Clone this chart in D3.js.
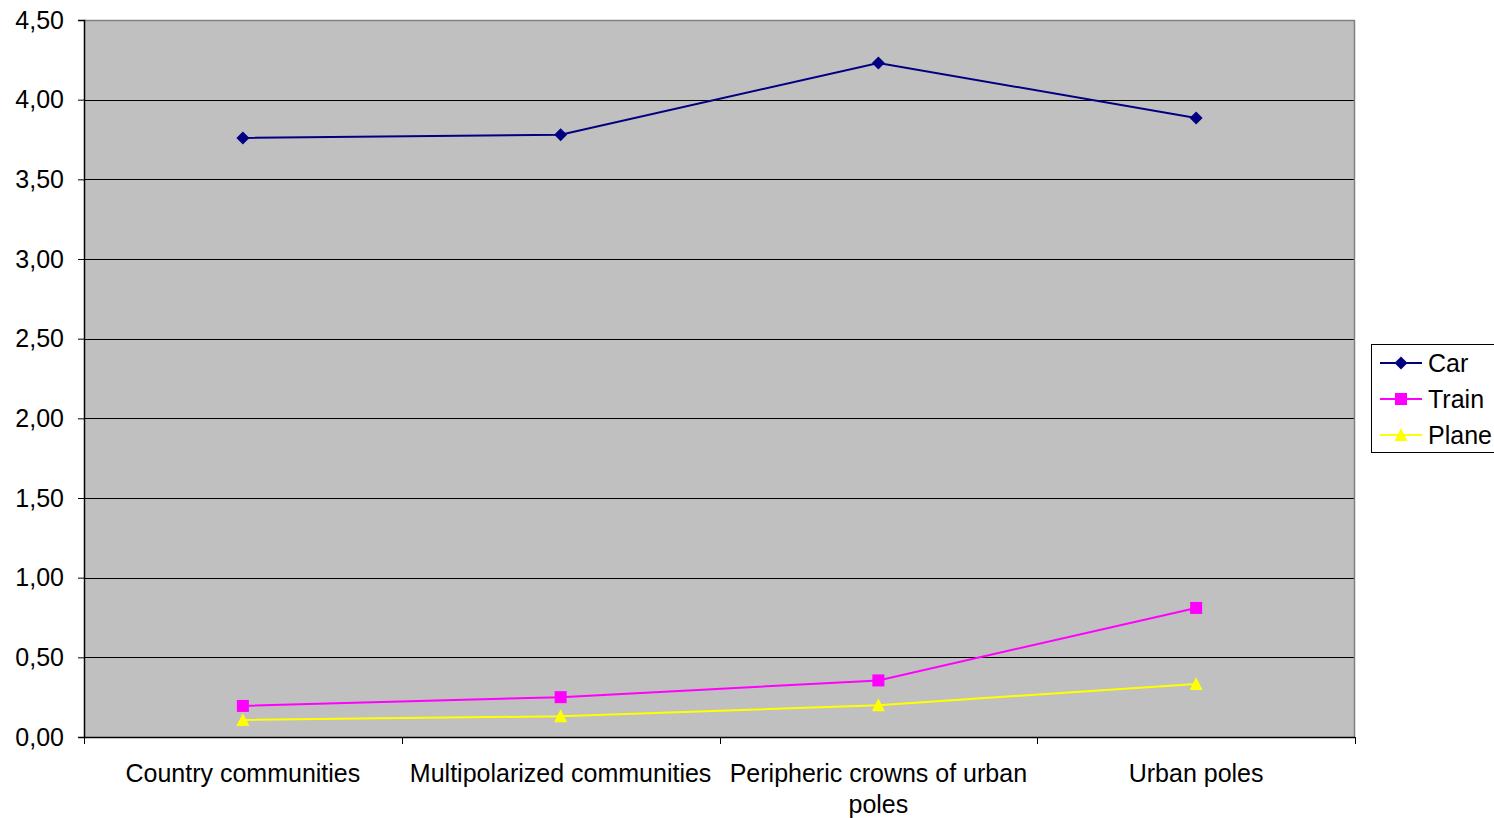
<!DOCTYPE html>
<html>
<head>
<meta charset="utf-8">
<script src="https://cdn.jsdelivr.net/npm/d3@7"></script>
<style>
  html, body { margin: 0; padding: 0; background: #fff; }
  svg { display: block; font-family: "Liberation Sans", Arial, sans-serif; }
</style>
</head>
<body>
<svg id="chart" width="1494" height="818"></svg>
<script>
const categories = [
  ["Country communities"],
  ["Multipolarized communities"],
  ["Peripheric crowns of urban", "poles"],
  ["Urban poles"]
];
const seriesNames = ["Car", "Train", "Plane"];
const carValues = [3.76, 3.78, 4.23, 3.885];
const trainValues = [0.195, 0.25, 0.355, 0.81];
const planeValues = [0.107, 0.13, 0.20, 0.333];
const yTicks = [0, 0.5, 1, 1.5, 2, 2.5, 3, 3.5, 4, 4.5];

const series = [
  { name: seriesNames[0], values: carValues, color: "#000080", marker: "diamond" },
  { name: seriesNames[1], values: trainValues, color: "#ff00ff", marker: "square" },
  { name: seriesNames[2], values: planeValues, color: "#ffff00", marker: "triangle" }
];

const svg = d3.select("#chart");
const plot = { left: 84, right: 1355, top: 20, bottom: 737 };
const fontSize = 25;

const x = d3.scaleBand()
  .domain(d3.range(categories.length))
  .range([plot.left, plot.right]);
const y = d3.scaleLinear().domain([0, 4.5]).range([plot.bottom, plot.top]);

// plot background
svg.append("rect")
  .attr("x", plot.left).attr("y", plot.top)
  .attr("width", plot.right - plot.left).attr("height", plot.bottom - plot.top)
  .attr("fill", "#c0c0c0");

// horizontal gridlines
svg.append("g").selectAll("line")
  .data(yTicks.filter(t => t > 0))
  .join("line")
  .attr("x1", plot.left).attr("x2", plot.right)
  .attr("y1", d => Math.round(y(d)) + 0.5).attr("y2", d => Math.round(y(d)) + 0.5)
  .attr("stroke", "#000").attr("stroke-width", 1);

// plot border (top/right)
svg.append("path")
  .attr("d", `M${plot.left},${plot.top + 0.5}H${plot.right - 0.5}V${plot.bottom}`)
  .attr("fill", "none").attr("stroke", "#808080").attr("stroke-width", 1.5);

// y axis
const yAxis = svg.append("g")
  .attr("transform", `translate(${plot.left},0)`)
  .call(d3.axisLeft(y).tickValues(yTicks).tickSize(6).tickPadding(14)
    .tickFormat(d => d3.format(".2f")(d).replace(".", ",")));
yAxis.select(".domain").attr("stroke", "#000").attr("stroke-width", 1.5);
yAxis.selectAll(".tick line").attr("stroke", "#000");
yAxis.selectAll(".tick text").attr("font-size", fontSize).attr("fill", "#000")
  .attr("font-family", "'Liberation Sans', Arial, sans-serif");

// x axis
const xAxis = svg.append("g")
  .attr("transform", `translate(0,${plot.bottom})`);
xAxis.append("line")
  .attr("x1", plot.left).attr("x2", plot.right)
  .attr("y1", 0.5).attr("y2", 0.5)
  .attr("stroke", "#000").attr("stroke-width", 1.5);
const boundaries = d3.range(categories.length + 1).map(i => plot.left + i * x.bandwidth());
xAxis.selectAll(".xtick").data(boundaries).join("line")
  .attr("class", "xtick")
  .attr("x1", d => Math.round(d) + 0.5).attr("x2", d => Math.round(d) + 0.5)
  .attr("y1", 0).attr("y2", 7)
  .attr("stroke", "#000");
xAxis.selectAll(".xlabel").data(categories).join("text")
  .attr("class", "xlabel")
  .attr("x", (d, i) => x(i) + x.bandwidth() / 2)
  .attr("y", 45)
  .attr("text-anchor", "middle")
  .attr("font-size", fontSize)
  .attr("fill", "#000")
  .each(function(d) {
    d3.select(this).selectAll("tspan").data(d).join("tspan")
      .attr("x", d3.select(this).attr("x"))
      .attr("dy", (t, j) => j === 0 ? 0 : 31)
      .text(t => t);
  });

// markers
const diamond = { draw(ctx, size) {
  const r = Math.sqrt(size) / 2 * 1.1;
  ctx.moveTo(0, -r); ctx.lineTo(r, 0); ctx.lineTo(0, r); ctx.lineTo(-r, 0); ctx.closePath();
} };
const triangle = { draw(ctx, size) {
  const h = Math.sqrt(size);
  ctx.moveTo(0, -h / 2 - 1); ctx.lineTo(h / 2 + 0.5, h / 2); ctx.lineTo(-h / 2 - 0.5, h / 2); ctx.closePath();
} };
const symbols = {
  diamond: d3.symbol().type(diamond).size(140),
  square: d3.symbol().type(d3.symbolSquare).size(144),
  triangle: d3.symbol().type(triangle).size(144)
};

const line = d3.line()
  .x((d, i) => x(i) + x.bandwidth() / 2)
  .y(d => y(d));

series.forEach(s => {
  const g = svg.append("g");
  g.append("path")
    .attr("d", line(s.values))
    .attr("fill", "none")
    .attr("stroke", s.color)
    .attr("stroke-width", 2);
  g.selectAll("path.m").data(s.values).join("path")
    .attr("class", "m")
    .attr("d", symbols[s.marker])
    .attr("transform", (d, i) => `translate(${x(i) + x.bandwidth() / 2},${y(d)})`)
    .attr("fill", s.color);
});

// legend
const legend = svg.append("g");
legend.append("rect")
  .attr("x", 1371.5).attr("y", 344.5)
  .attr("width", 130).attr("height", 108)
  .attr("fill", "#fff").attr("stroke", "#000").attr("stroke-width", 1);
series.forEach((s, i) => {
  const cy = 363 + i * 36;
  legend.append("line")
    .attr("x1", 1380).attr("x2", 1422)
    .attr("y1", cy).attr("y2", cy)
    .attr("stroke", s.color).attr("stroke-width", 2);
  legend.append("path")
    .attr("d", symbols[s.marker])
    .attr("transform", `translate(1401,${cy})`)
    .attr("fill", s.color);
  legend.append("text")
    .attr("x", 1428).attr("y", cy + 9)
    .attr("font-size", fontSize)
    .attr("fill", "#000")
    .text(s.name);
});
</script>
</body>
</html>
